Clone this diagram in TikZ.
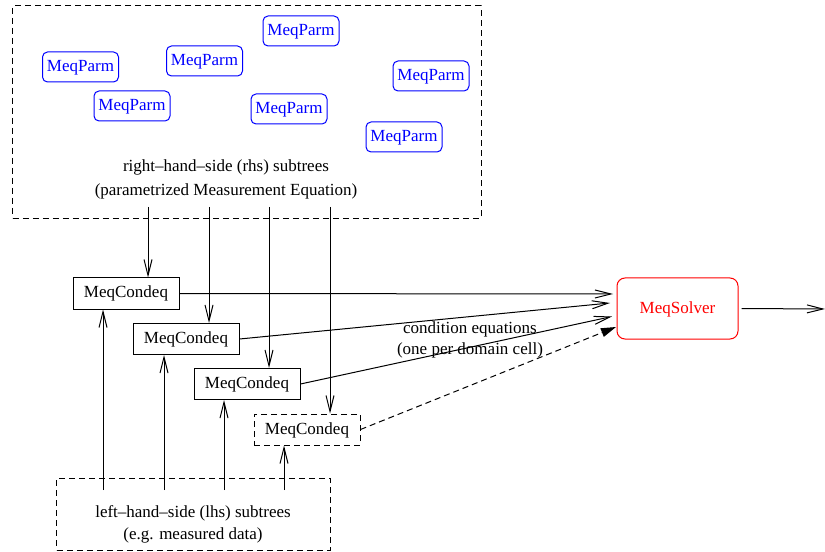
\documentclass[tikz,border=0pt]{standalone}
\usepackage{fontspec}
\setmainfont{Liberation Serif}
\usetikzlibrary{arrows.meta}
\begin{document}
\begin{tikzpicture}[x=1bp,y=-1bp,
  every node/.style={font=\fontsize{17bp}{20bp}\selectfont, inner sep=0pt},
  parm/.style={draw=blue, text=blue, rounded corners=5bp, minimum width=76bp, minimum height=30bp, line width=1bp, text height=12bp, text depth=3bp},
  cond/.style={draw, minimum width=106bp, minimum height=31bp, line width=1bp, text height=12bp, text depth=3bp},
  solverbox/.style={draw=red, text=red, rounded corners=8bp, minimum width=121bp, minimum height=61bp, line width=1bp, text height=12bp, text depth=2bp},
  grp/.style={draw, dash pattern=on 6bp off 4bp, line width=1bp},
  arr/.style={-{Straight Barb[length=16bp,width=8bp]}, line width=1bp},
  darr/.style={-{Triangle[length=15bp,width=9bp]}, line width=1bp, dash pattern=on 6bp off 4bp},
  lbl/.style={align=center}
]
\useasboundingbox (0,0) rectangle (825,552);
% group boxes
\node[grp, minimum width=468bp, minimum height=212bp] (rhs) at (247,112) {};
\node[grp, minimum width=273bp, minimum height=72bp] (lhs) at (193.5,514) {};
% labels
\node[lbl, font=\fontsize{17bp}{24bp}\selectfont] (rhslbl) at (226,179) {right--hand--side (rhs) subtrees\\(parametrized Measurement Equation)};
\node[lbl, font=\fontsize{17bp}{22bp}\selectfont] (lhslbl) at (193,524) {left--hand--side (lhs) subtrees\\(e.g. measured data)};
\node[lbl, font=\fontsize{17bp}{21bp}\selectfont] (celbl) at (470,339.5) {condition equations\\(one per domain cell)};
% MeqParm
\node[parm] (p1) at (80.5,67) {MeqParm};
\node[parm] (p2) at (204.5,61) {MeqParm};
\node[parm] (p3) at (301,31) {MeqParm};
\node[parm] (p4) at (431,76) {MeqParm};
\node[parm] (p5) at (132,106) {MeqParm};
\node[parm] (p6) at (289,109) {MeqParm};
\node[parm] (p7) at (404,137) {MeqParm};
% MeqCondeq
\node[cond] (c1) at (126,293.5) {MeqCondeq};
\node[cond] (c2) at (186,339) {MeqCondeq};
\node[cond] (c3) at (247,384) {MeqCondeq};
\node[cond, dash pattern=on 6bp off 4bp] (c4) at (307,429.5) {MeqCondeq};
% solver
\node[solverbox] (solver) at (677.5,308.5) {MeqSolver};
% connector ends
\coordinate (t1) at (148,207);
\coordinate (t2) at (209,207);
\coordinate (t3) at (269,207);
\coordinate (t4) at (330,207);
\coordinate (b1) at (103,490);
\coordinate (b2) at (164,490);
\coordinate (b3) at (224,490);
\coordinate (b4) at (284,490);
\coordinate (s1) at (613,294);
\coordinate (s2) at (610,303);
\coordinate (s3) at (612,316.5);
\coordinate (s4) at (616,327);
\coordinate (out) at (825,309);
% arrows from rhs
\draw[arr] (t1) -- (t1 |- c1.north);
\draw[arr] (t2) -- (t2 |- c2.north);
\draw[arr] (t3) -- (t3 |- c3.north);
\draw[arr] (t4) -- (t4 |- c4.north);
% arrows from lhs
\draw[arr] (b1) -- (b1 |- c1.south);
\draw[arr] (b2) -- (b2 |- c2.south);
\draw[arr] (b3) -- (b3 |- c3.south);
\draw[arr] (b4) -- (b4 |- c4.south);
% to solver
\draw[arr] (c1.east) -- (s1);
\draw[arr] (c2.east) -- (s2);
\draw[arr] (c3.east) -- (s3);
\draw[darr] (c4.east) -- (s4);
\draw[arr] ([xshift=3bp]solver.east) -- (out);
\end{tikzpicture}
\end{document}
